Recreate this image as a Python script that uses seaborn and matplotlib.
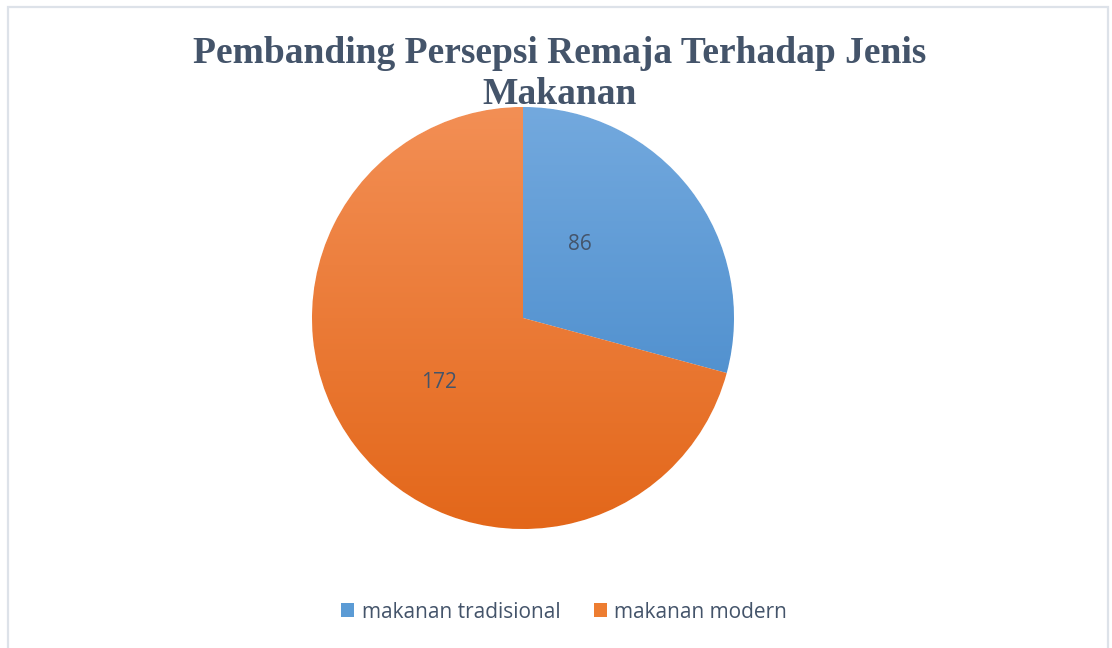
import numpy as np
import matplotlib
matplotlib.use("Agg")
import matplotlib.pyplot as plt
import seaborn as sns
from matplotlib.patches import Patch, Rectangle
from matplotlib.colors import LinearSegmentedColormap

categories = ["makanan tradisional", "makanan modern"]
label_values = [86, 172]
# slice shares (%) as drawn in the original picture
slice_share = [29.2, 70.8]
top_colors = ["#73A9DE", "#F38F55"]
bottom_colors = ["#3F84C7", "#E3671A"]
mid_colors = ["#5B9BD5", "#ED7D31"]
title = "Pembanding Persepsi Remaja Terhadap Jenis\nMakanan"

sns.set_theme(style="white")
plt.rcParams["font.family"] = ["Open Sans", "DejaVu Sans"]
text_color = "#44546A"

fig = plt.figure(figsize=(11.12, 6.48), dpi=100)
fig.patch.set_facecolor("white")

# chart border
fig.patches.append(Rectangle((8 / 1112, -0.05), 1100 / 1112, 1.05 - 7 / 648,
                             transform=fig.transFigure, fill=False,
                             edgecolor="#DDE2E9", linewidth=1.6))

ax = fig.add_axes([312 / 1112, 119 / 648, 422 / 1112, 422 / 648])
lab_iter = iter(label_values)
wedges, texts, autotexts = ax.pie(slice_share, startangle=90, counterclock=False,
                                  colors=mid_colors, autopct=lambda p: str(next(lab_iter)),
                                  pctdistance=0.5,
                                  wedgeprops=dict(edgecolor="white", linewidth=0.8),
                                  textprops=dict(color=text_color, fontsize=15))
ax.set_xlim(-1, 1)
ax.set_ylim(-1, 1)
ax.set_aspect("equal")
ax.axis("off")

# vertical gradient fill, clipped to each wedge
grad = np.linspace(0, 1, 256).reshape(-1, 1)
for w, c1, c2 in zip(wedges, top_colors, bottom_colors):
    cmap = LinearSegmentedColormap.from_list("g", [c1, c2])
    im = ax.imshow(grad, cmap=cmap, extent=(-1, 1, -1, 1), origin="upper",
                   aspect="auto", zorder=w.get_zorder() + 0.1)
    im.set_clip_path(w)
for t in autotexts:
    t.set_zorder(5)

# the blue label sits a bit off its mid-angle in the original
autotexts[0].set_position((0.27, 0.35))

fig.text(560 / 1112, 1 - 74 / 648, title, ha="center", va="center",
         fontsize=27, fontweight="bold", color=text_color,
         family=["Liberation Serif"], linespacing=1.25)

handles = [Patch(facecolor=c, edgecolor="none") for c in mid_colors]
fig.legend(handles, categories, loc="center", bbox_to_anchor=(564 / 1112, 1 - 612 / 648),
           ncol=2, frameon=False, fontsize=15, labelcolor=text_color,
           handlelength=0.65, handleheight=0.65, handletextpad=0.35, columnspacing=1.6)

fig.savefig("out.png", dpi=100)
